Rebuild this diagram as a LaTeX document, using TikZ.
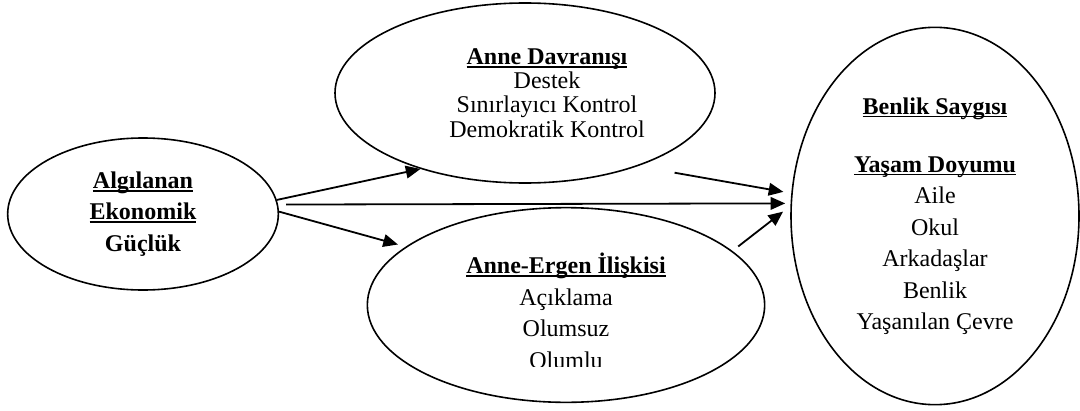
\documentclass[tikz,border=0pt]{standalone}
\usepackage{fontspec}
\setmainfont{Liberation Serif}
\usetikzlibrary{shapes.geometric,arrows.meta}
\newcommand{\undl}[1]{\setbox0=\hbox{#1}\rlap{\rule[-2.4pt]{\wd0}{1.3pt}}\box0}

\begin{document}
\begin{tikzpicture}[x=0.75pt,y=-0.75pt]
  \tikzstyle{oval}=[draw,ellipse,line width=1.2pt,inner sep=0pt,align=center]
  \tikzstyle{big}=[font=\fontsize{18pt}{23.6pt}\selectfont]
  \tikzstyle{link}=[line width=1.35pt,-{Triangle[length=11pt,width=9.5pt]}]
  \useasboundingbox (0,0) rectangle (1080,410);
  \node[oval,big,minimum width=203pt,minimum height=114pt] (alg) at (143,214)
    {\bfseries\undl{Algılanan}\\\bfseries\undl{Ekonomik}\\\bfseries Güçlük};
  \node[oval,minimum width=285pt,minimum height=135pt] (dav) at (525,93) {};
  \node[align=center,font=\fontsize{18pt}{18.2pt}\selectfont] (davtxt) at (547,93)
    {\textbf{\undl{Anne Davranışı}}\\Destek\\Sınırlayıcı Kontrol\\Demokratik Kontrol};
  \node[oval,minimum width=298pt,minimum height=146pt] (aer) at (566,305) {};
  \begin{scope}
    \clip (370,215) rectangle (765,366);
    \node[big,align=center] (aertxt) at (566,311)
      {\textbf{\undl{Anne-Ergen İlişkisi}}\\Açıklama\\Olumsuz\\Olumlu};
  \end{scope}
  \node[oval,big,minimum width=216pt,minimum height=283pt] (sat) at (935,216)
    {\textbf{\undl{Benlik Saygısı}}\\[20pt]\textbf{\undl{Yaşam Doyumu}}\\Aile\\Okul\\Arkadaşlar\\Benlik\\Yaşanılan Çevre};
  \draw[link] (alg.6) -- (dav.216);
  \draw[link,shorten <=6pt,shorten >=4pt] (alg.4) -- (sat.175);
  \draw[link,shorten >=6pt] (alg.1) -- (aer.160);
  \draw[link,shorten <=28pt,shorten >=6pt] (dav.327) -- (sat.171);
  \draw[link,shorten <=5.5pt,shorten >=7pt] (aer.18) -- (sat.176);
\end{tikzpicture}
\end{document}
